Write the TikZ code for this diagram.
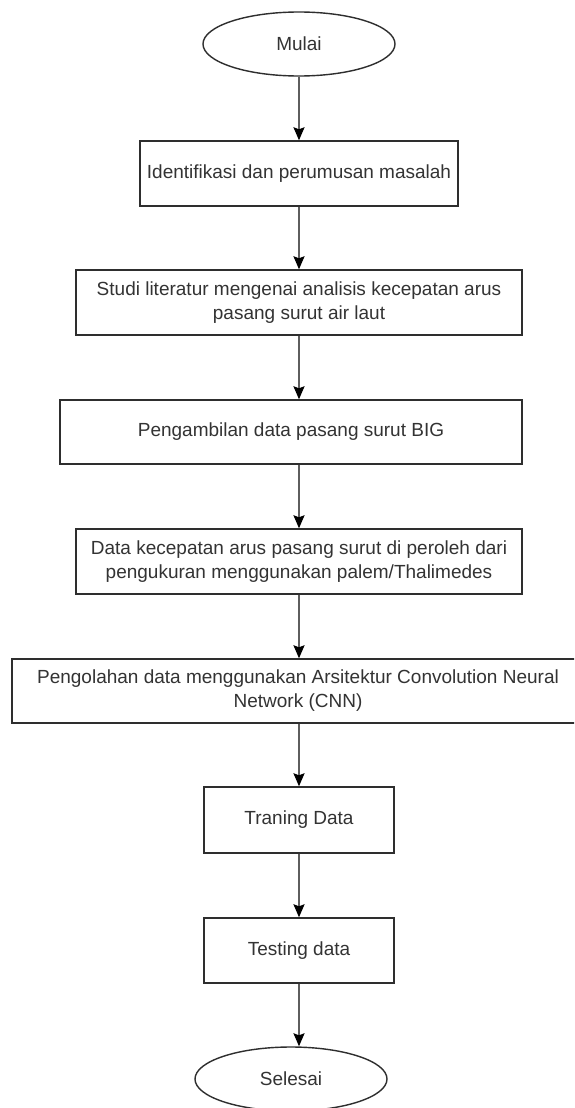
\documentclass[tikz,border=0pt]{standalone}
\usepackage{fontspec}
\setmainfont{Liberation Sans}
\usetikzlibrary{shapes.geometric,arrows.meta}
\definecolor{txtc}{HTML}{333333}
\definecolor{edgec}{HTML}{2E2E2E}
\definecolor{linec}{HTML}{5E5E5E}
\tikzset{
  base/.style={draw=edgec, line width=1.4pt, fill=white, inner sep=0pt,
    text=txtc, align=center, font=\fontsize{19}{24}\selectfont},
  procbox/.style={base, rectangle},
  term/.style={base, ellipse, minimum width=192pt, minimum height=64pt},
  arr/.style={draw=linec, line width=1.8pt,
    -{Stealth[length=13pt,width=11pt,inset=2pt,color=black]}}
}
\begin{document}
\begin{tikzpicture}[x=1pt,y=-1pt]
\clip (0,0) rectangle (574,1108);
\fill[white] (0,0) rectangle (574,1108);
\node[term] (mulai) at (299,44) {Mulai};
\node[procbox, minimum width=318pt, minimum height=65pt] (b1) at (299,173.5) {Identifikasi dan perumusan masalah};
\node[procbox, minimum width=446pt, minimum height=65pt] (b2) at (299,302.5) {Studi literatur mengenai analisis kecepatan arus\\pasang surut air laut};
\node[procbox, minimum width=462pt, minimum height=64pt] (b3) at (291,432) {Pengambilan data pasang surut BIG};
\node[procbox, minimum width=446pt, minimum height=65pt] (b4) at (299,561.5) {Data kecepatan arus pasang surut di peroleh dari\\pengukuran menggunakan palem/Thalimedes};
\node[procbox, minimum width=572pt, minimum height=64pt] (b5) at (298,691) {Pengolahan data menggunakan Arsitektur Convolution Neural\\Network (CNN)};
\node[procbox, minimum width=190pt, minimum height=66pt] (b6) at (299,820) {Traning Data};
\node[procbox, minimum width=190pt, minimum height=65pt] (b7) at (299,950.5) {Testing data};
\node[term] (selesai) at (291,1079) {Selesai};
\draw[arr] (mulai.south) -- (mulai.south |- b1.north);
\draw[arr] (b1.south) -- (b1.south |- b2.north);
\draw[arr] (b2.south) -- (b2.south |- b3.north);
\draw[arr] (b2.south |- b3.south) -- (b2.south |- b4.north);
\draw[arr] (b4.south) -- (b4.south |- b5.north);
\draw[arr] (b6.north |- b5.south) -- (b6.north);
\draw[arr] (b6.south) -- (b7.north);
\draw[arr] (b7.south) -- (b7.south |- selesai.north);
\end{tikzpicture}
\end{document}
